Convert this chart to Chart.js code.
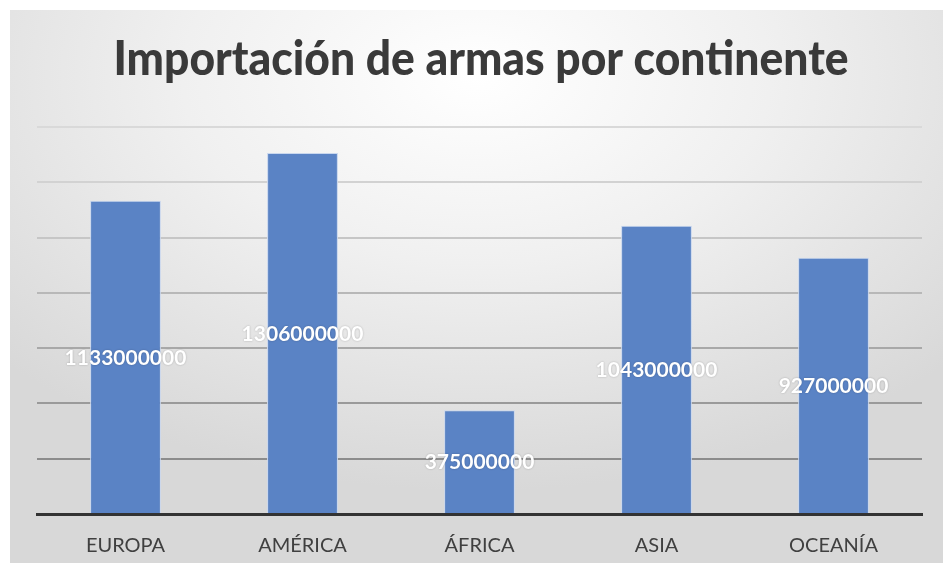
<!DOCTYPE html>
<html>
<head>
<meta charset="utf-8">
<script src="https://cdn.jsdelivr.net/npm/chart.js@4/dist/chart.umd.min.js"></script>
<style>
  html, body { margin: 0; padding: 0; background: #fff; overflow: hidden; }
  #wrap {
    position: absolute; left: 10px; top: 10px; width: 933px; height: 553px;
    background: radial-gradient(ellipse 70% 75% at 50% 12%, #ffffff 0%, #f0f0f0 45%, #d8d8d8 100%);
  }
  #chart { position: absolute; left: -10px; top: -10px; }
</style>
</head>
<body>
<div id="wrap"><canvas id="chart" width="943" height="563"></canvas></div>
<script>
var titleText = "Importación de armas por continente";
var continents = ["EUROPA", "AMÉRICA", "ÁFRICA", "ASIA", "OCEANÍA"];
var imports = [1133000000, 1306000000, 375000000, 1043000000, 927000000];

// grid colours get darker towards the bottom
var gridColours = ["#7f7f7f", "#8c8c8c", "#9a9a9a", "#a8a8a8", "#b8b8b8", "#c6c6c6", "#d2d2d2", "#d9d9d9"];

var titlePlugin = {
	id: 'bigTitle',
	afterDraw: function(chart) {
		var ctx = chart.ctx;
		ctx.save();
		ctx.font = '900 48px Lato';
		ctx.fillStyle = '#3a3a3a';
		ctx.textBaseline = 'middle';
		ctx.textAlign = 'center';
		var w = ctx.measureText(titleText).width;
		var sx = 735 / w;
		ctx.translate(481, 60);
		ctx.scale(sx, 1);
		ctx.fillText(titleText, 0, 0);
		ctx.restore();
	}
};

var valueLabels = {
	id: 'valueLabels',
	afterDatasetsDraw: function(chart) {
		var ctx = chart.ctx;
		var meta = chart.getDatasetMeta(0);
		ctx.save();
		ctx.font = 'bold 21px Lato';
		ctx.fillStyle = '#ffffff';
		ctx.textAlign = 'center';
		ctx.textBaseline = 'middle';
		ctx.shadowColor = 'rgba(0,0,0,0.25)';
		ctx.shadowBlur = 2;
		meta.data.forEach(function(bar, i) {
			var y = (bar.y + bar.base) / 2 + 1;
			ctx.fillText(String(imports[i]), bar.x, y);
		});
		ctx.restore();
	}
};

var config = {
	type: 'bar',
	data: {
		labels: continents,
		datasets: [{
			data: imports,
			backgroundColor: '#5a83c5',
			borderColor: '#c9d7ee',
			borderWidth: 1,
			categoryPercentage: 1,
			barPercentage: 0.4
		}]
	},
	options: {
		responsive: false,
		animation: false,
		layout: { padding: { left: 37, right: 21, top: 127, bottom: 0 } },
		plugins: {
			legend: { display: false },
			title: { display: false },
			tooltip: { enabled: false }
		},
		scales: {
			x: {
				grid: { display: false },
				border: { color: '#333333', width: 3 },
				ticks: { color: '#404040', font: { family: 'Lato', size: 20 }, padding: 12 },
				afterFit: function(scale) { scale.height = 49; }
			},
			y: {
				min: 0,
				max: 1400000000,
				ticks: { display: false, stepSize: 200000000 },
				border: { display: false },
				grid: {
					color: function(c) { return gridColours[c.index] || '#d9d9d9'; },
					lineWidth: 2,
					drawTicks: false
				}
			}
		}
	},
	plugins: [titlePlugin, valueLabels]
};

var ctx = document.getElementById("chart").getContext("2d");
window.myBar = new Chart(ctx, config);
</script>
</body>
</html>
